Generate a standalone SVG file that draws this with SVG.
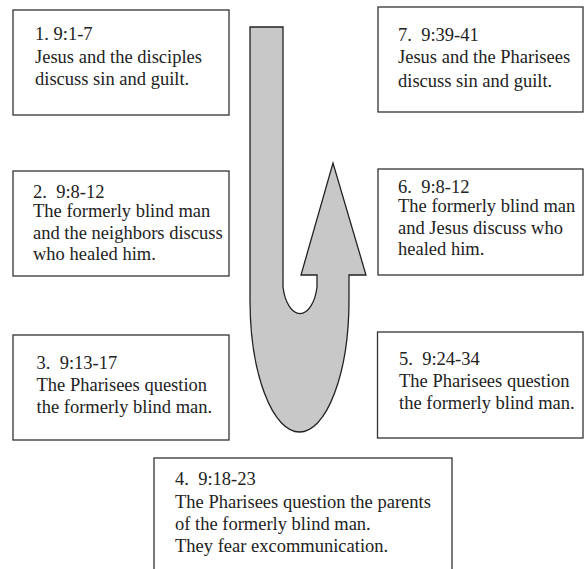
<svg xmlns="http://www.w3.org/2000/svg" width="584" height="569" viewBox="0 0 584 569">
<style>
.box{fill:#fff;stroke:#333;stroke-width:1.3}
text{font-family:'Liberation Serif','Times New Roman','DejaVu Serif',serif;font-size:18.5px;fill:#222;white-space:pre}
.arrow{fill:#c8c8c8;stroke:#222;stroke-width:1.3;stroke-linejoin:miter}
</style>
<rect width="584" height="569" fill="#fff"/>
<g id="connectors">
<path class="arrow" d="M250,27 H283 V287 A17.5,35 0 0 0 317,287 V275 H301 L333,163 L366,275 H349 V300 A49.5,132 0 0 1 250,300 Z"/>
</g>
<g id="node1" font-family="Liberation Serif, serif">
<rect class="box" x="13" y="10" width="216" height="105"/>
<text x="35" y="40">1. 9:1-7</text>
<text x="35" y="62.5">Jesus and the disciples</text>
<text x="35" y="85">discuss sin and guilt.</text>
</g>
<g id="node2">
<rect class="box" x="13" y="171" width="216" height="105"/>
<text x="33" y="197.5">2.  9:8-12</text>
<text x="33" y="217">The formerly blind man</text>
<text x="33" y="238.5">and the neighbors discuss</text>
<text x="33" y="260">who healed him.</text>
</g>
<g id="node3">
<rect class="box" x="13" y="335" width="216" height="105"/>
<text x="36.5" y="368.5">3.  9:13-17</text>
<text x="36.5" y="390.5">The Pharisees question</text>
<text x="36.5" y="413">the formerly blind man.</text>
</g>
<g id="node4">
<rect class="box" x="154" y="458" width="298" height="130"/>
<text x="175" y="485">4.  9:18-23</text>
<text x="175" y="508">The Pharisees question the parents</text>
<text x="175" y="530">of the formerly blind man.</text>
<text x="175" y="551.7">They fear excommunication.</text>
</g>
<g id="node5">
<rect class="box" x="377.5" y="332" width="205.5" height="106"/>
<text x="399" y="365">5.  9:24-34</text>
<text x="399" y="387.3">The Pharisees question</text>
<text x="399" y="408.5">the formerly blind man.</text>
</g>
<g id="node6">
<rect class="box" x="378" y="169" width="205" height="106"/>
<text x="398" y="193">6.  9:8-12</text>
<text x="398" y="212">The formerly blind man</text>
<text x="398" y="233.5">and Jesus discuss who</text>
<text x="398" y="255">healed him.</text>
</g>
<g id="node7">
<rect class="box" x="378" y="7" width="205" height="105"/>
<text x="398" y="40.7">7.  9:39-41</text>
<text x="398" y="63.3">Jesus and the Pharisees</text>
<text x="398" y="86.7">discuss sin and guilt.</text>
</g>
</svg>
